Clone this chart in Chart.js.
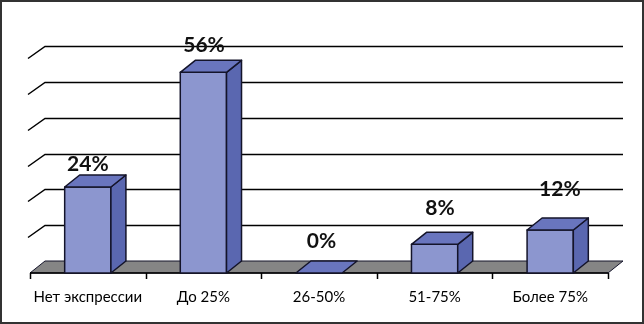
<!DOCTYPE html>
<html>
<head>
<meta charset="utf-8">
<script src="https://cdn.jsdelivr.net/npm/chart.js@4.4.1/dist/chart.umd.min.js"></script>
<style>
  html, body { margin: 0; padding: 0; background: #fff; }
  #wrap { width: 644px; height: 324px; position: relative; }
</style>
</head>
<body>
<div id="wrap"><canvas id="chart" width="644" height="324"></canvas></div>
<script>
const categories = ['Нет экспрессии', 'До 25%', '26-50%', '51-75%', 'Более 75%'];
const values = [24, 56, 0, 8, 12];
const gridValues = [10, 20, 30, 40, 50, 60];

// depth offset of the 3D look
const DX = 15;
const DY = 12;

const colors = {
  front: '#8c96cf',
  top: '#6975be',
  side: '#5a67b0',
  edge: '#14142a',
  floor: '#858585'
};

function poly(ctx, pts, fill) {
  ctx.beginPath();
  ctx.moveTo(pts[0][0], pts[0][1]);
  for (let i = 1; i < pts.length; i++) ctx.lineTo(pts[i][0], pts[i][1]);
  ctx.closePath();
  if (fill) {
    ctx.fillStyle = fill;
    ctx.fill();
  }
  ctx.stroke();
}

const threeD = {
  id: 'threeD',
  beforeDatasetsDraw(chart) {
    const ctx = chart.ctx;
    const y = chart.scales.y;
    const left = chart.chartArea.left;
    const right = chart.chartArea.right;
    const base = y.getPixelForValue(0);

    ctx.save();
    ctx.strokeStyle = '#000';
    ctx.lineWidth = 1.5;
    // back wall grid lines with stubs on the left wall
    gridValues.forEach(v => {
      const py = Math.round(y.getPixelForValue(v)) + 0.5;
      ctx.beginPath();
      ctx.moveTo(left - 2, py);
      ctx.lineTo(left + DX, py - DY);
      ctx.lineTo(right + DX, py - DY);
      ctx.stroke();
    });

    // floor
    ctx.lineWidth = 1;
    ctx.strokeStyle = colors.edge;
    poly(ctx, [[left, base], [left + DX, base - DY], [right + DX, base - DY], [right, base]], colors.floor);

    // front axis with ticks
    ctx.lineWidth = 1.5;
    ctx.strokeStyle = '#000';
    ctx.beginPath();
    ctx.moveTo(left, base);
    ctx.lineTo(right, base);
    for (let i = 0; i <= categories.length; i++) {
      const tx = Math.round(left + (right - left) * i / categories.length) + 0.5;
      ctx.moveTo(tx, base);
      ctx.lineTo(tx, base + 6);
    }
    ctx.stroke();
    ctx.restore();
  },
  afterDatasetsDraw(chart) {
    const ctx = chart.ctx;
    const meta = chart.getDatasetMeta(0);
    ctx.save();
    ctx.lineWidth = 1.5;
    ctx.strokeStyle = colors.edge;
    ctx.lineJoin = 'round';
    meta.data.forEach((bar, i) => {
      const l = bar.x - bar.width / 2;
      const r = bar.x + bar.width / 2;
      const t = bar.y;
      const b = bar.base;
      if (b - t > 0.5) {
        poly(ctx, [[l, t], [r, t], [r, b], [l, b]], colors.front);
        poly(ctx, [[r, t], [r + DX, t - DY], [r + DX, b - DY], [r, b]], colors.side);
      }
      poly(ctx, [[l, t], [l + DX, t - DY], [r + DX, t - DY], [r, t]], colors.top);

      // value label, drifting with the perspective like the original
      ctx.fillStyle = '#111';
      ctx.font = 'bold 21px Lato, "Open Sans", sans-serif';
      ctx.textAlign = 'center';
      ctx.textBaseline = 'alphabetic';
      ctx.fillText(values[i] + '%', bar.x + i * i * 0.6, t - 16 - i * 4.5);
    });

    // category labels
    const x = chart.scales.x;
    ctx.fillStyle = '#000';
    ctx.font = '15px Lato, "Open Sans", sans-serif';
    ctx.textAlign = 'center';
    ctx.textBaseline = 'alphabetic';
    categories.forEach((c, i) => {
      ctx.fillText(c, x.getPixelForValue(i), 302);
    });
    ctx.restore();
  },
  afterDraw(chart) {
    const ctx = chart.ctx;
    ctx.save();
    ctx.strokeStyle = '#333';
    ctx.lineWidth = 2;
    ctx.strokeRect(1, 1, chart.width - 2, chart.height - 2);
    ctx.restore();
  }
};

new Chart(document.getElementById('chart'), {
  type: 'bar',
  data: {
    labels: categories,
    datasets: [{
      data: values,
      backgroundColor: 'rgba(0,0,0,0)',
      borderWidth: 0,
      barPercentage: 0.4,
      categoryPercentage: 1
    }]
  },
  options: {
    responsive: false,
    animation: false,
    layout: {
      padding: { left: 30, right: 36, top: 58, bottom: 51 }
    },
    scales: {
      x: { display: false },
      y: { display: false, min: 0, max: 60 }
    },
    plugins: {
      legend: { display: false },
      tooltip: { enabled: false }
    }
  },
  plugins: [threeD]
});
</script>
</body>
</html>
